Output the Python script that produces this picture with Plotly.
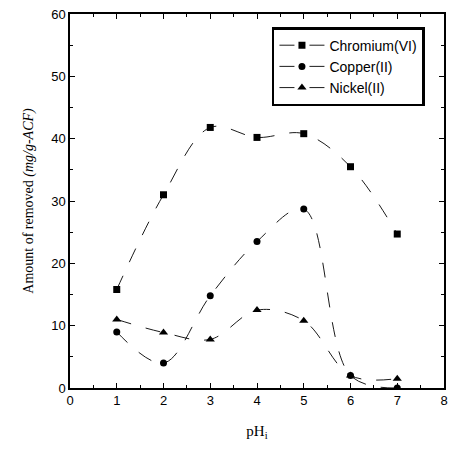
import plotly.graph_objects as go

ph = [1, 2, 3, 4, 5, 6, 7]
chromium = [15.8, 31.0, 41.8, 40.2, 40.8, 35.5, 24.7]
copper = [9.0, 4.0, 14.8, 23.5, 28.7, 2.0, 0.0]
nickel = [11.0, 8.9, 7.8, 12.5, 10.8, 2.0, 1.5]

fig = go.Figure()
fig.add_trace(go.Scatter(x=ph, y=chromium, name="Chromium(VI)", mode="lines+markers",
                         line=dict(color="black", width=0.9, shape="spline", dash="longdash"),
                         marker=dict(symbol="square", size=7, color="black")))
fig.add_trace(go.Scatter(x=ph, y=copper, name="Copper(II)", mode="lines+markers",
                         line=dict(color="black", width=0.9, shape="spline", dash="longdash"),
                         marker=dict(symbol="circle", size=7, color="black")))
fig.add_trace(go.Scatter(x=ph, y=nickel, name="Nickel(II)", mode="lines+markers",
                         line=dict(color="black", width=0.9, shape="spline", dash="longdash"),
                         marker=dict(symbol="triangle-up", size=8, color="black")))

axis_common = dict(showline=True, linecolor="black", linewidth=1.5, mirror="ticks",
                   ticks="inside", ticklen=5, tickcolor="black", showgrid=False, zeroline=False,
                   tickfont=dict(family="Liberation Sans, Arial", size=13, color="black"))

fig.update_xaxes(range=[0, 8], dtick=1, tick0=0,
                 minor=dict(ticks="inside", ticklen=3, dtick=0.5, tickcolor="black"),
                 title=dict(text="pH<sub>i</sub>", font=dict(family="Liberation Serif, Times New Roman", size=15, color="black"), standoff=18),
                 **axis_common)
fig.update_yaxes(range=[0, 60], dtick=10, tick0=0,
                 minor=dict(ticks="inside", ticklen=3, dtick=5, tickcolor="black"),
                 title=dict(text="Amount of removed <i>(mg/g-ACF)</i>", font=dict(family="Liberation Serif, Times New Roman", size=14, color="black"), standoff=14),
                 **axis_common)

fig.update_layout(width=453, height=451, margin=dict(l=70, r=5, t=14, b=63),
                  plot_bgcolor="white", paper_bgcolor="white", showlegend=True,
                  legend=dict(x=0.54, y=0.965, xanchor="left", yanchor="top",
                              bordercolor="black", borderwidth=2.5, bgcolor="white",
                              font=dict(family="Liberation Sans, Arial", size=14, color="black"),
                              tracegroupgap=0, itemwidth=45))

fig.write_html("out.html")
